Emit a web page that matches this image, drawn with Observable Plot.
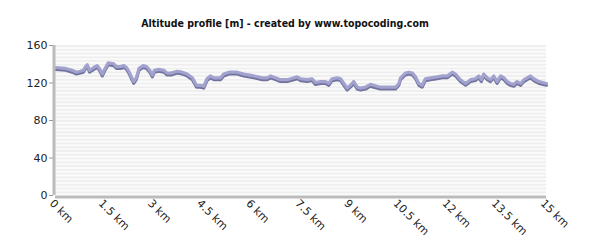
<!DOCTYPE html>
<html>
<head>
<meta charset="utf-8">
<script src="https://cdn.jsdelivr.net/npm/d3@7"></script>
<script src="https://cdn.jsdelivr.net/npm/@observablehq/plot@0.6"></script>
<style>
  html, body { margin: 0; padding: 0; background: #fff; }
  #title { height: 35px; box-sizing: border-box; padding-top: 17px; padding-right: 30px; text-align: center;
           font: bold 10.5px "DejaVu Sans Condensed", "DejaVu Sans", sans-serif; font-stretch: condensed; color: #111; letter-spacing: 0; }
</style>
</head>
<body>
<div id="title">Altitude profile [m] - created by www.topocoding.com</div>
<div id="chart"></div>
<script>
const distanceKm = [0,0.31,0.51,0.64,0.76,0.85,0.92,0.97,1.04,1.17,1.27,1.34,1.43,1.53,1.61,1.78,1.86,1.99,2.09,2.17,2.24,2.32,2.39,2.47,2.55,2.68,2.78,2.88,2.96,3.02,3.16,3.31,3.41,3.53,3.72,3.87,4.02,4.18,4.31,4.43,4.53,4.63,4.73,4.84,5.04,5.14,5.3,5.55,5.75,6.06,6.32,6.47,6.57,6.72,6.87,7.08,7.28,7.38,7.49,7.69,7.84,7.94,8.1,8.25,8.35,8.45,8.61,8.71,8.81,8.91,9.01,9.11,9.22,9.32,9.47,9.62,9.72,9.93,10.13,10.39,10.49,10.54,10.69,10.8,10.9,11.0,11.1,11.2,11.3,11.46,11.66,11.82,11.97,12.12,12.22,12.37,12.53,12.68,12.83,12.93,13.01,13.08,13.19,13.29,13.39,13.49,13.6,13.7,13.8,13.9,14.0,14.1,14.21,14.31,14.41,14.51,14.61,14.77,15.0];
const altitudeM = [136,135,133,131,132,133,137,139,133,136,138,135,129,136,141,140,137,137,138,136,132,126,121,125,135,138,137,133,128,133,134,133,130,130,132,131,129,125,117,117,116,124,127,125,125,129,131,131,129,127,125,125,127,125,123,123,125,126,124,123,124,120,121,121,119,124,125,124,119,114,117,121,115,114,115,118,117,115,115,115,119,125,130,131,130,126,119,117,124,125,126,127,127,131,129,123,119,123,124,127,123,129,125,123,127,121,127,125,121,119,118,121,119,123,125,127,124,121,119];
const xTicks = [0,1.5,3,4.5,6,7.5,9,10.5,12,13.5,15];
const yTicks = [0,40,80,120,160];

const data = distanceKm.map((d, i) => ({km: d, alt: altitudeM[i]}));
const bands = d3.range(0, 160, 2).map(v => ({y1: v, y2: v + 2, odd: (v / 2) % 2 === 1}));

const chart = Plot.plot({
  width: 600,
  height: 215,
  marginLeft: 55,
  marginRight: 54,
  marginTop: 10,
  marginBottom: 55,
  style: {fontFamily: "DejaVu Sans, sans-serif", fontSize: "11px", color: "#222", background: "#fff"},
  x: {domain: [0, 15]},
  y: {domain: [0, 160]},
  marks: [
    Plot.rect(bands, {x1: 0, x2: 15, y1: "y1", y2: "y2", fill: d => d.odd ? "#eeeeee" : "#fafafa"}),
    Plot.line(data, {x: "km", y: "alt", stroke: "#72729f", strokeWidth: 3, dy: 1.4}),
    Plot.line(data, {x: "km", y: "alt", stroke: "#a2a2cf", strokeWidth: 3.2, dy: -0.5}),
    Plot.ruleX([0], {stroke: "#bbbbbb", strokeWidth: 3, dx: -1.5}),
    Plot.ruleY([0], {stroke: "#bbbbbb", strokeWidth: 3, dy: 1.5}),
    Plot.axisY({ticks: yTicks, tickSize: 4, tickPadding: 2, stroke: "#999", label: null, fontSize: 11, fill: "#222", dx: -2}),
    Plot.axisX({ticks: xTicks, tickFormat: d => d + " km", tickSize: 0, tickRotate: 45, textAnchor: "start", tickPadding: 6, label: null, fontSize: 11, fill: "#222", dx: -4, dy: 0})
  ]
});
document.getElementById("chart").appendChild(chart);
</script>
</body>
</html>
